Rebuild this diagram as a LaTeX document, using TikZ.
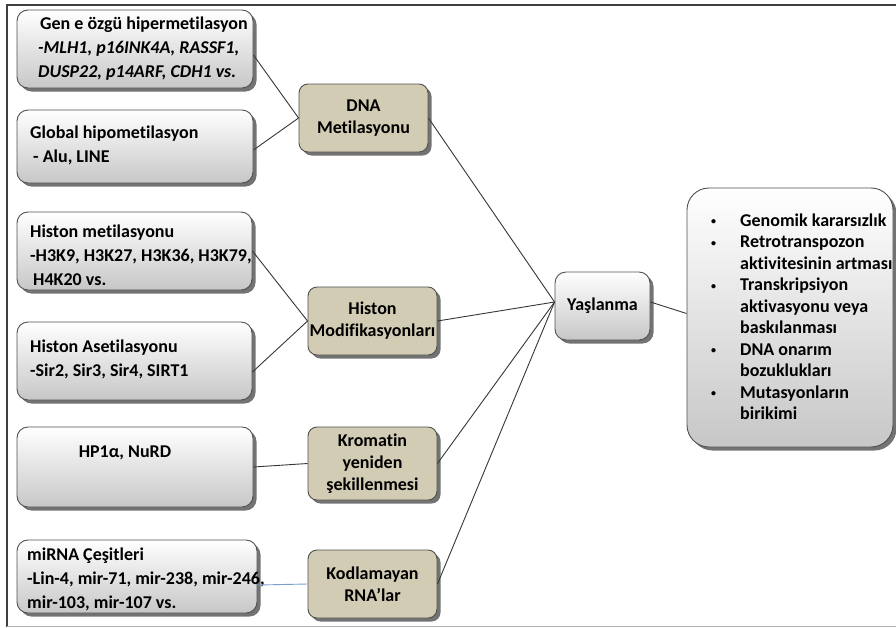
\documentclass[tikz,border=0pt]{standalone}
\usepackage{fontspec}
\setmainfont{Carlito}[Ligatures=NoCommon]
\usetikzlibrary{shadows}
\definecolor{tanfill}{RGB}{210,204,180}
\definecolor{edgec}{RGB}{80,80,80}
\definecolor{linkc}{RGB}{55,55,55}
\definecolor{bluelink}{RGB}{120,160,205}
\newcommand{\bul}{\makebox[30pt][l]{\hspace*{1pt}\raisebox{1.5pt}{\fontsize{10}{10}\selectfont•}}}
\begin{document}
\begin{tikzpicture}[x=1pt,y=-1pt,
  shadowed/.style={drop shadow={shadow xshift=3.5pt,shadow yshift=-3.5pt,fill=black,opacity=0.55}},
  graybox/.style={shadowed,draw=edgec,line width=0.9pt,rounded corners=11pt,top color=white,bottom color=black!22,inner sep=0pt},
  tanbox/.style={shadowed,draw=edgec,line width=0.9pt,rounded corners=9pt,fill=tanfill,inner sep=0pt,align=center,font=\fontsize{18}{22}\selectfont\bfseries},
  txt/.style={anchor=west,align=left,inner sep=0pt,font=\fontsize{18}{24}\selectfont\bfseries},
  link/.style={draw=linkc,line width=0.9pt}]
\useasboundingbox (0,0) rectangle (896,627);
\fill[white] (0,0) rectangle (896,627);
% frame
\draw[line width=1.5pt,black!75] (7,627) -- (7,5) -- (896,5);
\draw[line width=1pt,black!30] (7,626) -- (896,626);

% left boxes
\node[graybox,minimum width=236pt,minimum height=78pt] (b1) at (135,49) {};
\node[graybox,minimum width=236pt,minimum height=73pt] (b2) at (135,146.5) {};
\node[graybox,minimum width=235pt,minimum height=78pt] (b3) at (134.5,251) {};
\node[graybox,minimum width=235pt,minimum height=78pt] (b4) at (134.5,361) {};
\node[graybox,minimum width=236pt,minimum height=80pt] (b5) at (135,467) {};
\node[graybox,minimum width=240pt,minimum height=73pt] (b6) at (137,576.5) {};

\node[txt] (t1) at (38,49) {\hspace*{2pt}Gen e özgü hipermetilasyon\\{\itshape -MLH1, p16INK4A, RASSF1,}\\{\itshape DUSP22, p14ARF, CDH1 vs.}};
\node[txt] (t2) at (30,145) {Global hipometilasyon\\\hspace*{3pt}- Alu, LINE};
\node[txt] (t3) at (30,255) {Histon metilasyonu\\-H3K9, H3K27, H3K36, H3K79,\\\hspace*{3pt}H4K20 vs.};
\node[txt] (t4) at (30,359) {Histon Asetilasyonu\\-Sir2, Sir3, Sir4, SIRT1};
\node[txt,anchor=center] (t5) at (125,453) {HP1α, NuRD};
\node[txt] (t6) at (27,579) {miRNA Çeşitleri\\-Lin-4, mir-71, mir-238, mir-246,\\mir-103, mir-107 vs.};

% middle boxes
\node[tanbox,minimum width=129pt,minimum height=68pt] (dna) at (363.5,118) {DNA\\Metilasyonu};
\node[tanbox,minimum width=129pt,minimum height=68pt] (hm) at (372.5,321) {Histon\\Modifikasyonları};
\node[tanbox,minimum width=129pt,minimum height=73pt] (kro) at (372.5,463.5) {Kromatin\\yeniden\\şekillenmesi};
\node[tanbox,minimum width=129pt,minimum height=68pt] (kod) at (372.5,584) {Kodlamayan\\RNA’lar};

% aging
\node[graybox,minimum width=95pt,minimum height=68pt,font=\fontsize{18}{22}\selectfont\bfseries] (yas) at (602.5,306) {Yaşlanma};

% right box
\node[graybox,rounded corners=22pt,minimum width=206pt,minimum height=259pt] (res) at (790,317.5) {};
\node[anchor=west,align=left,inner sep=0pt,font=\fontsize{18}{21.5}\selectfont\bfseries] (rt) at (710,316.5)
 {\bul Genomik kararsızlık\\
  \bul Retrotranspozon\\
  \hspace*{30pt}aktivitesinin artması\\
  \bul Transkripsiyon\\
  \hspace*{30pt}aktivasyonu veya\\
  \hspace*{30pt}baskılanması\\
  \bul DNA onarım\\
  \hspace*{30pt}bozuklukları\\
  \bul Mutasyonların\\
  \hspace*{30pt}birikimi};

% connectors
\draw[link] ([yshift=-6pt]b1.east) -- (dna.west);
\draw[link] ([yshift=-3.5pt]b2.east) -- (dna.west);
\draw[link] (b3.east) -- (hm.west);
\draw[link] ([yshift=-11pt]b4.east) -- (hm.west);
\draw[link] (b5.east) -- (kro.west);
\draw[draw=bluelink,line width=0.9pt] ([yshift=-8.5pt]b6.east) -- (kod.west);
\draw[link] (dna.east) -- ([yshift=4pt]yas.west);
\draw[link] (hm.east) -- ([yshift=4pt]yas.west);
\draw[link] (kro.east) -- ([yshift=4pt]yas.west);
\draw[link] (kod.east) -- ([yshift=4pt]yas.west);
\draw[link] ([yshift=4pt]yas.east) -- ([yshift=4pt]res.west);
\end{tikzpicture}
\end{document}
